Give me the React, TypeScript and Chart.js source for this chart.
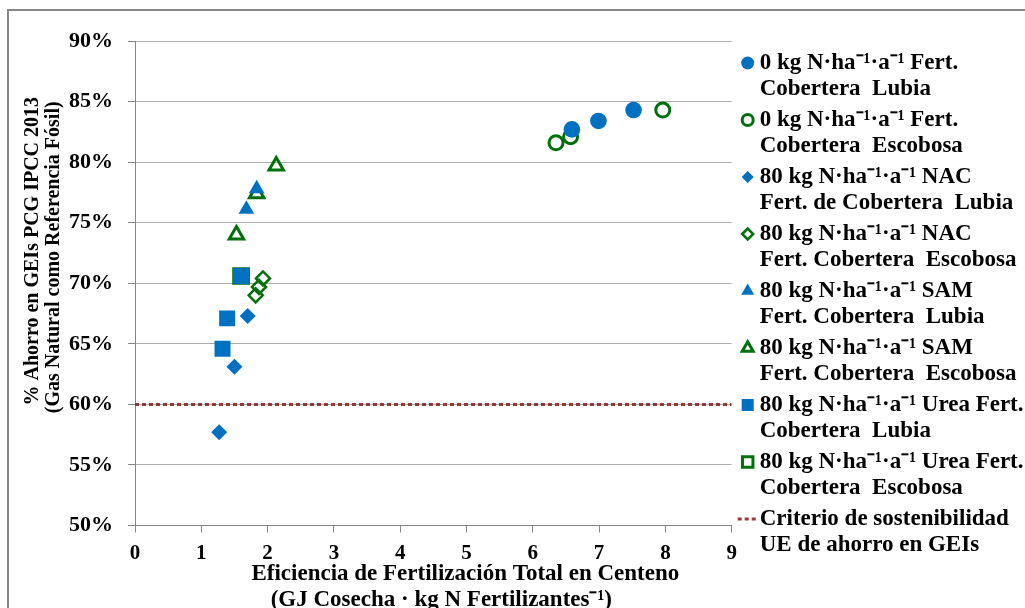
import React, { useEffect, useRef } from 'react';
import { Chart, registerables } from 'chart.js';
import { drawPoint } from 'chart.js/helpers';

Chart.register(...registerables);

// ---------- data ----------
const lubia0X = [6.59, 6.99, 7.52];
const lubia0Y = [82.7, 83.4, 84.3];
const escobosa0X = [6.35, 6.57, 7.96];
const escobosa0Y = [81.6, 82.1, 84.3];
const nacLubiaX = [1.27, 1.5, 1.7];
const nacLubiaY = [57.7, 63.1, 67.3];
const nacEscobosaX = [1.82, 1.87, 1.93];
const nacEscobosaY = [69.0, 69.7, 70.4];
const samLubiaX = [1.68, 1.835];
const samLubiaY = [76.1, 77.8];
const samEscobosaX = [1.53, 1.835, 2.13];
const samEscobosaY = [74.0, 77.4, 79.7];
const ureaLubiaX = [1.32, 1.39, 1.6];
const ureaLubiaY = [64.6, 67.1, 70.6];
const ureaEscobosaX = [1.6];
const ureaEscobosaY = [70.6];
const criterioX = [0, 9];
const criterioY = [60, 60];

const SUP = '\u207B\u00B9';
const seriesLabels = [
  [`0 kg N·ha${SUP}·a${SUP} Fert.`, 'Cobertera  Lubia'],
  [`0 kg N·ha${SUP}·a${SUP} Fert.`, 'Cobertera  Escobosa'],
  [`80 kg N·ha${SUP}·a${SUP} NAC`, 'Fert. de Cobertera  Lubia'],
  [`80 kg N·ha${SUP}·a${SUP} NAC`, 'Fert. Cobertera  Escobosa'],
  [`80 kg N·ha${SUP}·a${SUP} SAM`, 'Fert. Cobertera  Lubia'],
  [`80 kg N·ha${SUP}·a${SUP} SAM`, 'Fert. Cobertera  Escobosa'],
  [`80 kg N·ha${SUP}·a${SUP} Urea Fert.`, 'Cobertera  Lubia'],
  [`80 kg N·ha${SUP}·a${SUP} Urea Fert.`, 'Cobertera  Escobosa'],
  ['Criterio de sostenibilidad', 'UE de ahorro en GEIs'],
];

const xTicks = [0, 1, 2, 3, 4, 5, 6, 7, 8, 9];
const yTicks = [50, 55, 60, 65, 70, 75, 80, 85, 90];

const yTitle = ['% Ahorro en GEIs PCG IPCC 2013', '(Gas Natural como Referencia Fósil)'];
const xTitle = ['Eficiencia de Fertilización Total en Centeno', `(GJ Cosecha · kg N Fertilizantes${SUP})`];

// ---------- styles ----------
const BLUE = '#0070C0';
const GREEN = '#00700A';
const RED = '#953735';
const NONE = 'rgba(0,0,0,0)';
const FONT = '"Liberation Serif", "Times New Roman", serif';

const pts = (xs: number[], ys: number[]) => xs.map((x, i) => ({ x, y: ys[i] }));

const styles = [
  { pointStyle: 'circle', bg: BLUE, bc: BLUE, bw: 0, r: 8.3, lr: 6.5 },
  { pointStyle: 'circle', bg: NONE, bc: GREEN, bw: 3, r: 7, lr: 5.5 },
  { pointStyle: 'rectRot', bg: BLUE, bc: BLUE, bw: 0, r: 8, lr: 6 },
  { pointStyle: 'rectRot', bg: NONE, bc: GREEN, bw: 2.5, r: 7, lr: 5.5 },
  { pointStyle: 'triangle', bg: BLUE, bc: BLUE, bw: 0, r: 9, lr: 7.5 },
  { pointStyle: 'triangle', bg: NONE, bc: GREEN, bw: 3, r: 8.3, lr: 6.3 },
  { pointStyle: 'rect', bg: BLUE, bc: BLUE, bw: 0, r: 11.3, lr: 8.5 },
  { pointStyle: 'rect', bg: NONE, bc: GREEN, bw: 3, r: 10.4, lr: 7.4 },
];

const seriesData = [
  pts(lubia0X, lubia0Y),
  pts(escobosa0X, escobosa0Y),
  pts(nacLubiaX, nacLubiaY),
  pts(nacEscobosaX, nacEscobosaY),
  pts(samLubiaX, samLubiaY),
  pts(samEscobosaX, samEscobosaY),
  pts(ureaLubiaX, ureaLubiaY),
  pts(ureaEscobosaX, ureaEscobosaY),
];

const framePlugin = {
  id: 'frame',
  beforeDraw(chart: any) {
    const ctx = chart.ctx;
    ctx.save();
    ctx.fillStyle = '#ffffff';
    ctx.fillRect(0, 0, chart.width, chart.height);
    ctx.strokeStyle = '#878787';
    ctx.lineWidth = 2;
    ctx.beginPath();
    ctx.moveTo(8, chart.height + 5);
    ctx.lineTo(8, 10);
    ctx.lineTo(chart.width + 5, 10);
    ctx.stroke();
    ctx.restore();
  },
};

const titlesPlugin = {
  id: 'axisTitles',
  afterDraw(chart: any) {
    const ctx = chart.ctx;
    const a = chart.chartArea;
    ctx.save();
    ctx.fillStyle = '#000';
    ctx.textAlign = 'center';
    ctx.textBaseline = 'middle';
    // y title
    ctx.font = `bold 20px ${FONT}`;
    const cy = (a.top + a.bottom) / 2 - 32;
    ctx.save();
    ctx.translate(33, cy);
    ctx.rotate(-Math.PI / 2);
    ctx.fillText(yTitle[0], 0, 0);
    ctx.restore();
    ctx.save();
    ctx.translate(54, cy + 6);
    ctx.rotate(-Math.PI / 2);
    ctx.fillText(yTitle[1], 0, 0);
    ctx.restore();
    // x title
    ctx.font = `bold 23px ${FONT}`;
    const cx = (a.left + a.right) / 2;
    ctx.fillText(xTitle[0], cx + 32, a.bottom + 49);
    ctx.fillText(xTitle[1], cx + 8, a.bottom + 75);
    ctx.restore();
  },
};

const legendPlugin = {
  id: 'sideLegend',
  afterDraw(chart: any) {
    const ctx = chart.ctx;
    const a = chart.chartArea;
    const startY = a.top + 22;
    const step = 57;
    const gap = 26.5;
    const markerX = a.right + 16;
    const textX = a.right + 28;
    ctx.save();
    ctx.font = `bold 23px ${FONT}`;
    ctx.textBaseline = 'middle';
    ctx.textAlign = 'left';
    seriesLabels.forEach((lines, i) => {
      const y = startY + i * step;
      const st = styles[i];
      if (st) {
        ctx.save();
        ctx.fillStyle = st.bg;
        ctx.strokeStyle = st.bc;
        ctx.lineWidth = st.bw;
        drawPoint(ctx, { pointStyle: st.pointStyle as any, radius: st.lr, borderWidth: st.bw, rotation: 0 }, markerX, y);
        ctx.restore();
      } else {
        ctx.save();
        ctx.strokeStyle = RED;
        ctx.lineWidth = 3;
        ctx.setLineDash([4, 3]);
        ctx.beginPath();
        ctx.moveTo(markerX - 10, y);
        ctx.lineTo(markerX + 10, y);
        ctx.stroke();
        ctx.restore();
      }
      ctx.fillStyle = '#000';
      ctx.fillText(lines[0], textX, y);
      ctx.fillText(lines[1], textX, y + gap);
    });
    ctx.restore();
  },
};

export default function App() {
  const ref = useRef<HTMLCanvasElement | null>(null);

  useEffect(() => {
    document.body.style.margin = '0';
    document.body.style.overflow = 'hidden';
    const canvas = ref.current;
    if (!canvas) return;

    const datasets: any[] = seriesData.map((data, i) => ({
      label: seriesLabels[i].join(' '),
      data,
      pointStyle: styles[i].pointStyle,
      pointRadius: styles[i].r,
      pointHoverRadius: styles[i].r,
      pointBackgroundColor: styles[i].bg,
      pointBorderColor: styles[i].bc,
      pointBorderWidth: styles[i].bw,
      backgroundColor: styles[i].bg,
      borderColor: styles[i].bc,
      showLine: false,
      order: i,
    }));
    datasets.push({
      label: seriesLabels[8].join(' '),
      data: pts(criterioX, criterioY),
      showLine: true,
      borderColor: RED,
      borderWidth: 3,
      borderDash: [4, 3],
      pointRadius: 0,
      pointHoverRadius: 0,
      fill: false,
      order: 10,
    });

    const chart = new Chart(canvas, {
      type: 'scatter',
      data: { datasets },
      options: {
        animation: false,
        responsive: false,
        devicePixelRatio: 1,
        layout: { padding: { left: 0, top: 41, right: 293.3, bottom: 0 } },
        plugins: {
          legend: { display: false },
          tooltip: { enabled: false },
        },
        scales: {
          x: {
            type: 'linear',
            min: 0,
            max: 9,
            afterFit: (s: any) => { s.height = 82.5; },
            afterBuildTicks: (s: any) => { s.ticks = xTicks.map((v) => ({ value: v })); },
            ticks: {
              padding: 8,
              color: '#000',
              font: { family: FONT, size: 21, weight: 'bold' },
              maxRotation: 0,
            },
            grid: {
              drawOnChartArea: false,
              drawTicks: true,
              tickLength: 7,
              color: '#868686',
            },
            border: { display: true, color: '#868686', width: 1 },
          },
          y: {
            type: 'linear',
            min: 50,
            max: 90,
            afterFit: (s: any) => { s.width = 135; },
            afterBuildTicks: (s: any) => { s.ticks = yTicks.map((v) => ({ value: v })); },
            ticks: {
              padding: 15,
              color: '#000',
              font: { family: FONT, size: 22, weight: 'bold' },
              callback: (v: any) => `${v}%`,
            },
            grid: {
              drawOnChartArea: true,
              drawTicks: true,
              tickLength: 7,
              color: '#ADADAD',
              tickColor: '#868686',
            },
            border: { display: true, color: '#868686', width: 1 },
          },
        },
      },
      plugins: [framePlugin, titlesPlugin, legendPlugin],
    } as any);

    return () => chart.destroy();
  }, []);

  return <canvas ref={ref} width={1025} height={608} style={{ display: 'block', width: 1025, height: 608 }} />;
}
